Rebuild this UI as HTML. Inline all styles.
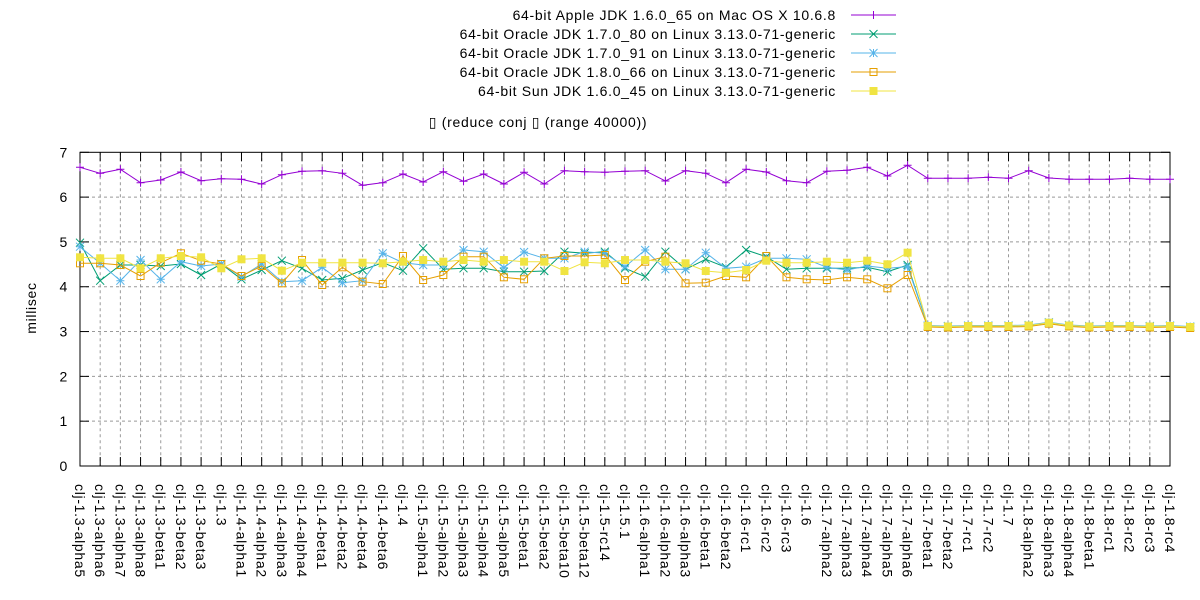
<!DOCTYPE html>
<html><head><meta charset="utf-8"><style>body{margin:0;background:#fff}svg{display:block}text{font-family:"Liberation Sans",sans-serif;font-size:14px;fill:#000;letter-spacing:0.7px}</style></head>
<body>
<svg id="s" width="1200" height="600" xmlns="http://www.w3.org/2000/svg"></svg>
<script>
const labels=["clj-1.3-alpha5","clj-1.3-alpha6","clj-1.3-alpha7","clj-1.3-alpha8","clj-1.3-beta1","clj-1.3-beta2","clj-1.3-beta3","clj-1.3","clj-1.4-alpha1","clj-1.4-alpha2","clj-1.4-alpha3","clj-1.4-alpha4","clj-1.4-beta1","clj-1.4-beta2","clj-1.4-beta4","clj-1.4-beta6","clj-1.4","clj-1.5-alpha1","clj-1.5-alpha2","clj-1.5-alpha3","clj-1.5-alpha4","clj-1.5-alpha5","clj-1.5-beta1","clj-1.5-beta2","clj-1.5-beta10","clj-1.5-beta12","clj-1.5-rc14","clj-1.5.1","clj-1.6-alpha1","clj-1.6-alpha2","clj-1.6-alpha3","clj-1.6-beta1","clj-1.6-beta2","clj-1.6-rc1","clj-1.6-rc2","clj-1.6-rc3","clj-1.6","clj-1.7-alpha2","clj-1.7-alpha3","clj-1.7-alpha4","clj-1.7-alpha5","clj-1.7-alpha6","clj-1.7-beta1","clj-1.7-beta2","clj-1.7-rc1","clj-1.7-rc2","clj-1.7","clj-1.8-alpha2","clj-1.8-alpha3","clj-1.8-alpha4","clj-1.8-beta1","clj-1.8-rc1","clj-1.8-rc2","clj-1.8-rc3","clj-1.8-rc4"];
const L=80,R=1170,T=152.3,B=466,N=55,dx=(R-L)/54;
const X=i=>L+i*dx;
const purple=[167.3,173.3,169.3,182.7,180,172,180.7,178.7,179.3,184,174.7,171.3,170.7,173.3,185.3,182.7,174,182,171.7,181.3,174,184,172.3,184,170.7,171.7,172.3,171.3,170.7,181,170.7,173.3,182.7,169.3,172,180.7,182.7,171.3,170.3,167.3,176,165.3,178.3,178.3,178.3,177.3,178.3,170.7,178,179.3,179.3,179.3,178.3,179.3,179.3];
const tail=[326,326.5,326,326,326,325.5,322.7,325.5,326.5,326,326,326.5,326,327];
const green=[242.7,280.7,265,265,266,264,275,264,279.3,270,260.7,268.3,280,278.3,270,262.7,270.7,248.3,269.3,268.3,268.3,271.7,271.7,271,251.7,253.3,251.7,268.3,276.7,251.7,269.3,259.3,267.3,250,256.7,269.3,268.3,268.3,268.3,267.3,271.7,265].concat(tail);
const blue=[246.7,263.3,280.7,260,279.3,261.7,266,264,276.7,264,281.7,280.7,267.3,282.7,280.7,253.3,262.7,265,265,250,251.7,267.7,252,258.3,258.3,251.7,253.3,266.7,250,269.3,269.3,252.7,268.3,266.7,258.3,258.3,259.3,267.3,270,266,268.3,266.7].concat(tail.map(v=>v-0.5));
const orange=[263.3,263.3,265,276,262.7,253.3,260.7,264,276,266,283.3,260,285,267.3,281.7,284,256,280,275,256.7,256.7,277.3,279.3,258.3,256,256,255,280,261.7,256.7,283.3,282.7,276,277.3,256,277.3,279.3,280,277.3,279.3,288.3,275].concat(tail.map(v=>v+1));
const yellow=[257.3,258.3,258.3,268.3,258.3,256,257.3,268.3,259.3,258.3,270.7,262.7,262.7,262.7,262.7,263.3,261.7,260,261.7,260,261.7,260,261.7,261.7,271,262.3,263.3,260,260,261.7,263.3,271,272.7,270,260.7,262.7,262.7,261.7,262.7,260.7,264.3,252.7].concat(tail);
let s='';
for(let v=1;v<=6;v++){const y=B-v*(B-T)/7;s+=`<line x1="${L}" y1="${y}" x2="${R}" y2="${y}" stroke="#999" stroke-dasharray="3,3"/>`;}
for(let i=1;i<N-1;i++){s+=`<line x1="${X(i)}" y1="${T}" x2="${X(i)}" y2="${B}" stroke="#999" stroke-dasharray="3,3"/>`;}
for(let v=0;v<=7;v++){const y=B-v*(B-T)/7;s+=`<line x1="${L}" y1="${y}" x2="${L+9}" y2="${y}" stroke="#000"/><line x1="${R}" y1="${y}" x2="${R-9}" y2="${y}" stroke="#000"/><text x="${L-12}" y="${y+5}" text-anchor="end">${v}</text>`;}
for(let i=0;i<N;i++){const x=X(i);s+=`<line x1="${x}" y1="${B}" x2="${x}" y2="${B-9}" stroke="#000"/><line x1="${x}" y1="${T}" x2="${x}" y2="${T+9}" stroke="#000"/><text transform="translate(${x-5},484) rotate(90)">${labels[i]}</text>`;}
s+=`<rect x="${L}" y="${T}" width="${R-L}" height="${B-T}" fill="none" stroke="#000"/>`;
s+=`<text transform="translate(36,308) rotate(-90)" text-anchor="middle">millisec</text>`;
s+=`<text x="538" y="127" text-anchor="middle">▯ (reduce conj ▯ (range 40000))</text>`;
function mk(t,x,y,c){
 if(t==0)return `<path d="M${x-4} ${y}h8M${x} ${y-4}v8" stroke="${c}"/>`;
 if(t==1)return `<path d="M${x-4} ${y-4}l8 8M${x-4} ${y+4}l8 -8" stroke="${c}"/>`;
 if(t==2)return `<path d="M${x-4} ${y-4}l8 8M${x-4} ${y+4}l8 -8M${x-4} ${y}h8M${x} ${y-4}v8" stroke="${c}"/>`;
 if(t==3)return `<rect x="${x-3.5}" y="${y-3.5}" width="7" height="7" fill="none" stroke="${c}"/>`;
 return `<rect x="${x-4}" y="${y-4}" width="8" height="8" fill="${c}"/>`;
}
const ser=[[purple,"#9400d3","64-bit Apple JDK 1.6.0_65 on Mac OS X 10.6.8"],[green,"#009e73","64-bit Oracle JDK 1.7.0_80 on Linux 3.13.0-71-generic"],[blue,"#56b4e9","64-bit Oracle JDK 1.7.0_91 on Linux 3.13.0-71-generic"],[orange,"#e69f00","64-bit Oracle JDK 1.8.0_66 on Linux 3.13.0-71-generic"],[yellow,"#f0e442","64-bit Sun JDK 1.6.0_45 on Linux 3.13.0-71-generic"]];
ser.forEach(([d,c,name],k)=>{
 s+=`<polyline fill="none" stroke="${c}" stroke-width="1" points="${d.map((y,i)=>X(i)+','+y).join(' ')}"/>`;
 d.forEach((y,i)=>s+=mk(k,X(i),y,c));
 const ly=15+k*19;
 s+=`<text x="836" y="${ly+5}" text-anchor="end">${name}</text><line x1="851" y1="${ly}" x2="896" y2="${ly}" stroke="${c}"/>`+mk(k,873.5,ly,c);
});
document.getElementById('s').innerHTML=s;
</script>
</body></html>
